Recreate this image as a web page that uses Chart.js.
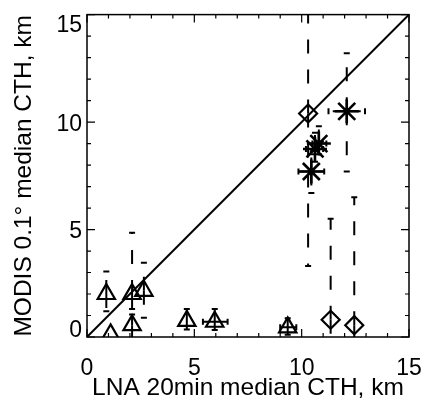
<!DOCTYPE html>
<html lang="en">
<head>
<meta charset="UTF-8">
<title>MODIS vs LNA median CTH</title>
<style>
  body { margin:0; background:#fff; }
  .wrap { width:427px; height:408px; }
</style>
</head>
<body>
<div class="wrap"><canvas id="cth"></canvas></div>
<script src="https://cdn.jsdelivr.net/npm/chart.js"></script>
<script>
// triangles
const triX   = [0.9, 2.1, 2.65, 2.1, 1.1, 4.65, 5.95, 9.35];
const triY   = [2.0, 2.0, 2.15, 0.55, 0.12, 0.75, 0.71, 0.45];
const triYLo = [1.2, 1.3, 0.9, -0.5, 0.12, 0.35, 0.32, 0.1];
const triYHi = [3.05, 4.85, 3.45, 1.05, 0.12, 1.3, 1.3, 0.87];
const triXLo = [0.9, 2.1, 2.65, 2.1, 1.1, 4.65, 5.4, 9.0];
const triXHi = [0.9, 2.1, 2.65, 2.1, 1.1, 4.65, 6.55, 9.75];
// diamonds
const diaX   = [10.3, 11.35, 12.45];
const diaY   = [10.4, 0.8, 0.55];
const diaYLo = [3.3, -1, -1];
const diaYHi = [16, 5.5, 6.5];
const diaXLo = [10.3, 11.35, 12.45];
const diaXHi = [10.3, 11.35, 12.45];
// asterisks
const starX   = [10.45, 10.62, 10.8, 12.1];
const starY   = [7.7, 8.75, 9.0, 10.5];
const starYLo = [6.7, 8.15, 8.5, 7.7];
const starYHi = [8.5, 9.5, 9.8, 13.2];
const starXLo = [9.85, 10.2, 10.5, 11.25];
const starXHi = [11.05, 11.0, 11.15, 12.95];
// 1:1 line and ticks
const oneX = [0, 15];
const oneY = [0, 15];
const majorTicks = [0, 5, 10, 15];
const minorTicks = [0,1,2,3,4,5,6,7,8,9,10,11,12,13,14,15];

const FONT = "'Liberation Sans', Arial, sans-serif";

function pts(xs, ys) { return xs.map((v, i) => ({x: v, y: ys[i]})); }

const groups = [
  {x: triX, y: triY, xlo: triXLo, xhi: triXHi, ylo: triYLo, yhi: triYHi},
  {x: diaX, y: diaY, xlo: diaXLo, xhi: diaXHi, ylo: diaYLo, yhi: diaYHi},
  {x: starX, y: starY, xlo: starXLo, xhi: starXHi, ylo: starYLo, yhi: starYHi}
];

const whiteBg = {
  id: 'whiteBg',
  beforeDraw(chart) {
    const c = chart.ctx;
    c.save(); c.fillStyle = '#fff'; c.fillRect(0, 0, chart.width, chart.height); c.restore();
  }
};

// dashed error bars with small caps, drawn from the point outwards
const errorBars = {
  id: 'errorBars',
  beforeDatasetsDraw(chart) {
    const {ctx, chartArea: a, scales: {x, y}} = chart;
    ctx.save();
    ctx.beginPath(); ctx.rect(a.left, a.top, a.right - a.left, a.bottom - a.top); ctx.clip();
    ctx.strokeStyle = '#000';
    ctx.lineWidth = 2;
    const seg = (x0, y0, x1, y1) => {
      ctx.setLineDash([14, 16]);
      ctx.beginPath(); ctx.moveTo(x0, y0); ctx.lineTo(x1, y1); ctx.stroke();
    };
    const cap = (x0, y0, x1, y1) => {
      ctx.setLineDash([]);
      ctx.beginPath(); ctx.moveTo(x0, y0); ctx.lineTo(x1, y1); ctx.stroke();
    };
    groups.forEach(g => {
      g.x.forEach((v, i) => {
        const px = x.getPixelForValue(v), py = y.getPixelForValue(g.y[i]);
        const lo = y.getPixelForValue(g.ylo[i]), hi = y.getPixelForValue(g.yhi[i]);
        const l = x.getPixelForValue(g.xlo[i]), r = x.getPixelForValue(g.xhi[i]);
        if (g.ylo[i] < g.y[i]) { seg(px, py, px, lo); cap(px - 3, lo, px + 3, lo); }
        if (g.yhi[i] > g.y[i]) { seg(px, py, px, hi); cap(px - 3, hi, px + 3, hi); }
        if (g.xlo[i] < v) { seg(px, py, l, py); cap(l, py - 3, l, py + 3); }
        if (g.xhi[i] > v) { seg(px, py, r, py); cap(r, py - 3, r, py + 3); }
      });
    });
    ctx.restore();
  }
};

// frame, inward ticks on all four sides, y tick labels
const frame = {
  id: 'frame',
  afterDraw(chart) {
    const {ctx, chartArea: a, scales: {x, y}} = chart;
    ctx.save();
    ctx.strokeStyle = '#000';
    ctx.lineWidth = 1.5;
    ctx.strokeRect(a.left, a.top, a.right - a.left, a.bottom - a.top);
    ctx.lineWidth = 1.2;
    ctx.beginPath();
    minorTicks.forEach(t => {
      const len = majorTicks.includes(t) ? 8 : 4;
      const px = x.getPixelForValue(t), py = y.getPixelForValue(t);
      ctx.moveTo(px, a.bottom); ctx.lineTo(px, a.bottom - len);
      ctx.moveTo(px, a.top); ctx.lineTo(px, a.top + len);
      ctx.moveTo(a.left, py); ctx.lineTo(a.left + len, py);
      ctx.moveTo(a.right, py); ctx.lineTo(a.right - len, py);
    });
    ctx.stroke();
    ctx.fillStyle = '#000';
    ctx.font = '23px ' + FONT;
    ctx.textAlign = 'right';
    ctx.textBaseline = 'alphabetic';
    majorTicks.forEach(t => {
      let py = y.getPixelForValue(t);
      if (t === 15) py += 17;
      else if (t !== 0) py += 8.5;
      ctx.fillText(String(t), a.left - 5, py);
    });
    ctx.restore();
  }
};

function fixBox(s, w, h) {
  if (w !== null) s.width = w;
  if (h !== null) s.height = h;
  s.paddingLeft = 0; s.paddingRight = 0; s.paddingTop = 0; s.paddingBottom = 0;
}

new Chart(document.getElementById('cth'), {
  type: 'scatter',
  data: {
    datasets: [
      {
        type: 'line', data: pts(oneX, oneY), borderColor: '#000', borderWidth: 2,
        pointRadius: 0, fill: false, clip: 0
      },
      {
        data: pts(triX, triY), pointStyle: 'triangle', pointRadius: 10,
        borderColor: '#000', backgroundColor: 'rgba(0,0,0,0)', borderWidth: 2.2, clip: 0
      },
      {
        data: pts(diaX, diaY), pointStyle: 'rectRot', pointRadius: 9,
        borderColor: '#000', backgroundColor: 'rgba(0,0,0,0)', borderWidth: 2.2, clip: 0
      },
      {
        data: pts(starX, starY), pointStyle: 'star', pointRadius: 12,
        borderColor: '#000', backgroundColor: 'rgba(0,0,0,0)', borderWidth: 2.6, clip: 0
      }
    ]
  },
  options: {
    responsive: true,
    maintainAspectRatio: false,
    animation: false,
    events: [],
    layout: { padding: { left: 0, top: 12, right: 18, bottom: 0 } },
    plugins: { legend: { display: false }, tooltip: { enabled: false } },
    scales: {
      x: {
        type: 'linear', min: 0, max: 15,
        grid: { display: false }, border: { display: false },
        ticks: {
          stepSize: 5, color: '#000', padding: 10, maxRotation: 0,
          font: { family: FONT, size: 23 }
        },
        title: {
          display: true, text: 'LNA 20min median CTH, km', color: '#000',
          font: { family: FONT, size: 24.5 }, padding: { top: 0, bottom: 5 }
        },
        afterFit(s) { fixBox(s, null, 71); }
      },
      y: {
        type: 'linear', min: 0, max: 15,
        grid: { display: false }, border: { display: false },
        ticks: { stepSize: 5, display: false },
        title: {
          display: true, text: 'MODIS 0.1° median CTH, km', color: '#000',
          font: { family: FONT, size: 24.5 }, padding: { top: 10, bottom: 0 }
        },
        afterFit(s) { fixBox(s, 87, null); }
      }
    }
  },
  plugins: [whiteBg, errorBars, frame]
});
</script>
</body>
</html>
